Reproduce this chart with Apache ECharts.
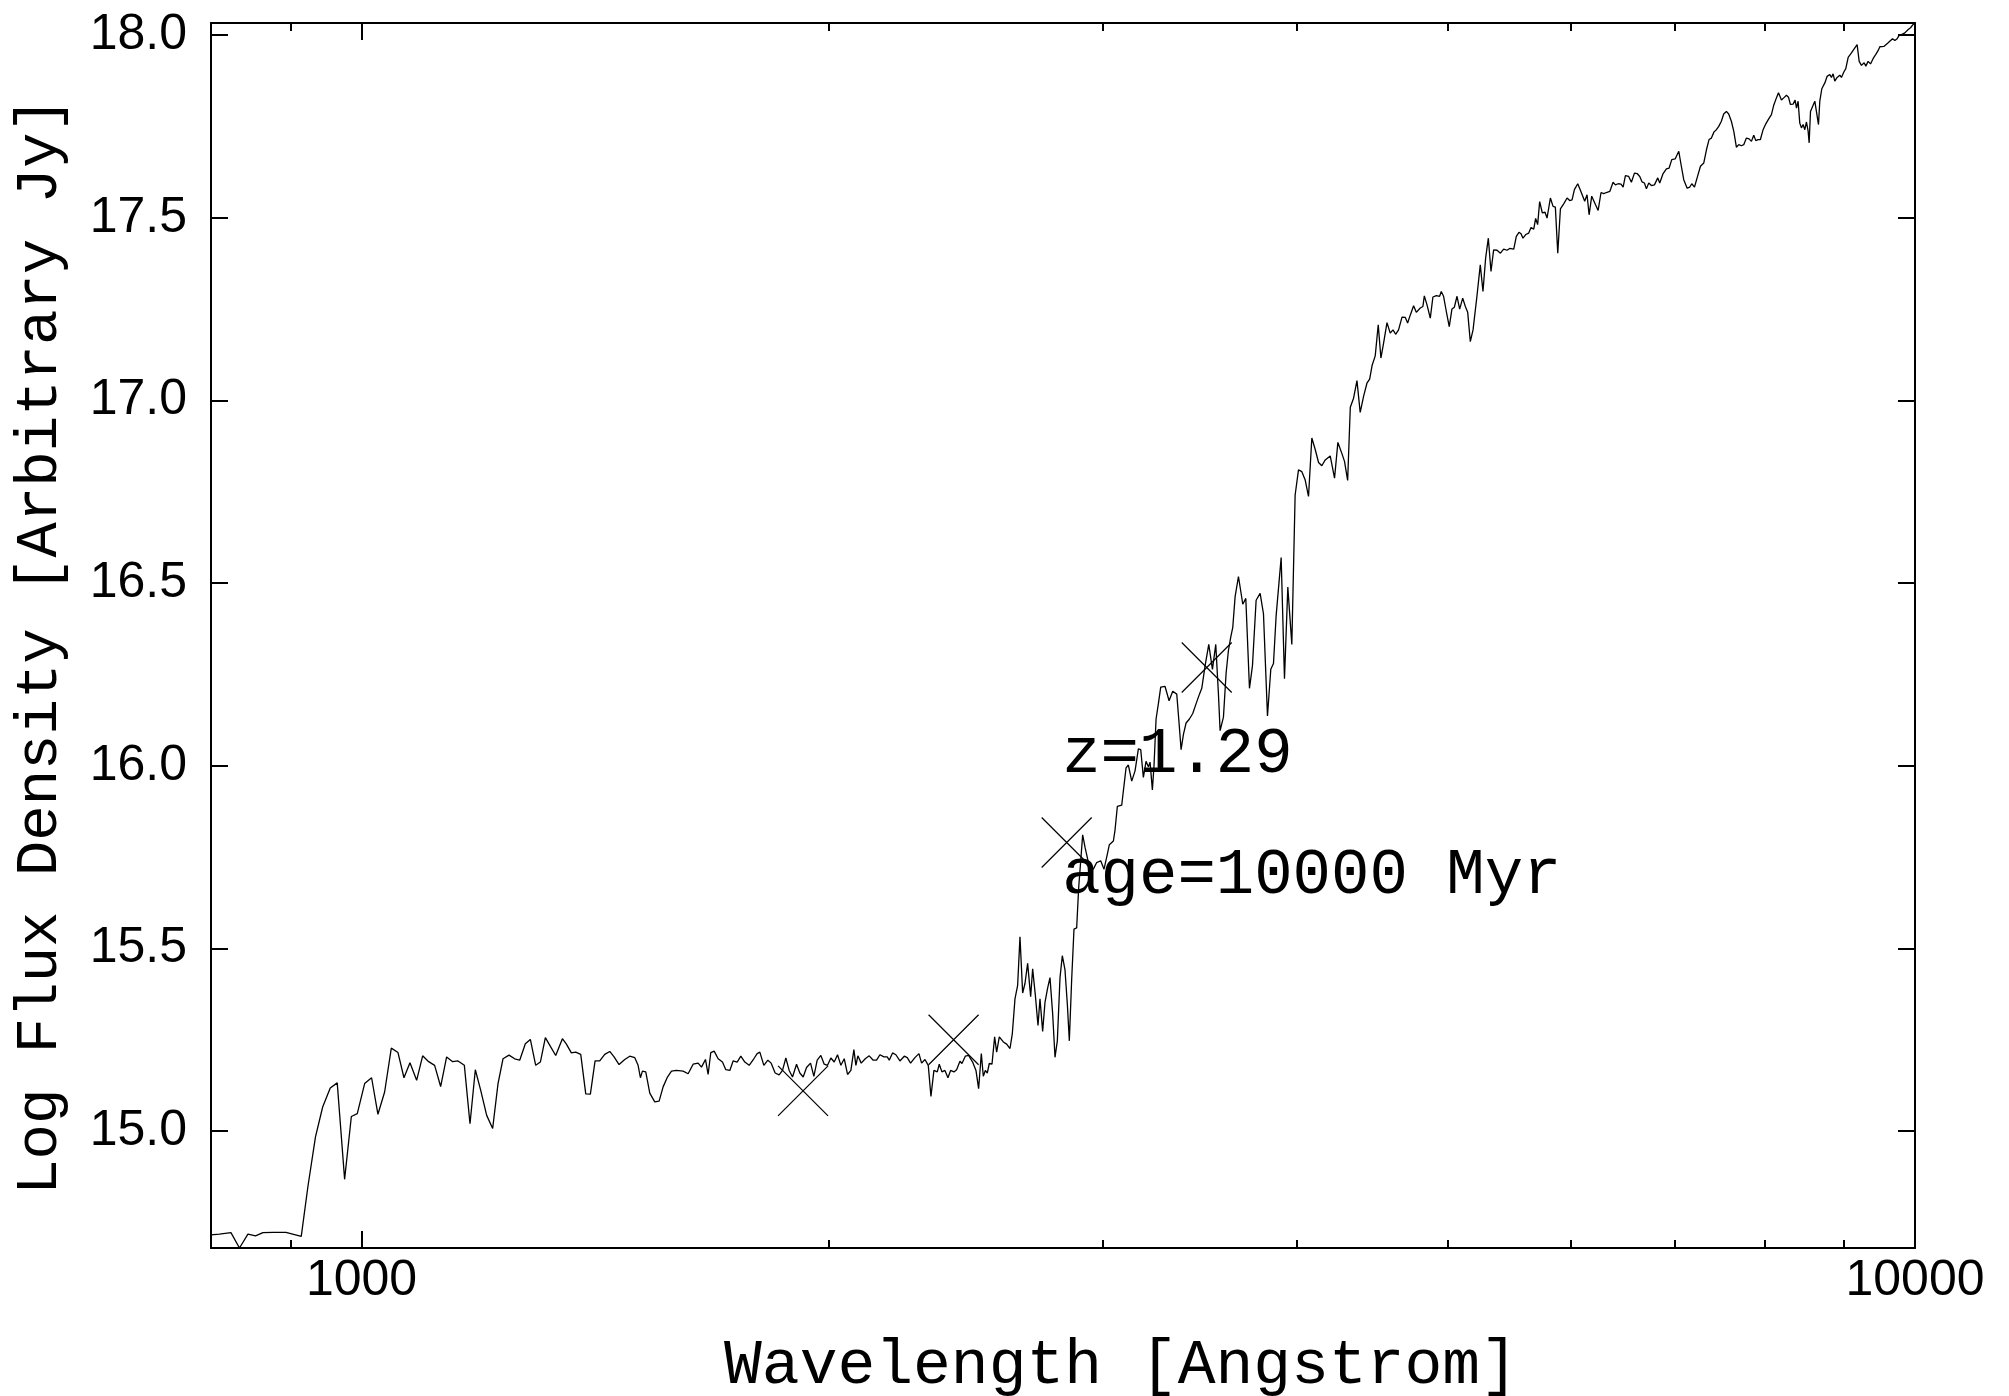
<!DOCTYPE html>
<html>
<head>
<meta charset="utf-8">
<script src="https://cdn.jsdelivr.net/npm/echarts@6/dist/echarts.min.js"></script>
<style>
html,body{margin:0;padding:0;background:#ffffff;}
#chart{width:2009px;height:1396px;}
</style>
</head>
<body>
<div id="chart"></div>
<script>
// ---- data (wavelength in Angstrom, log flux density) ----
const spectrum = [
[800,14.716],[810,14.718],[824,14.722],[834.5,14.680],[845,14.718],[854.6,14.713],[864,14.722],[877,14.723],[894,14.723],[914.5,14.712],
[923.5,14.847],[934,14.984],[944,15.066],[954.7,15.118],[964.6,15.132],[975.2,14.868],[985,15.040],[993.7,15.048],[1004.6,15.130],[1015,15.146],
[1024.6,15.046],[1034.8,15.107],[1045.1,15.227],[1055.5,15.215],[1064.9,15.146],[1074.4,15.187],[1085.1,15.139],[1094.8,15.206],[1104.6,15.190],[1114.4,15.180],
[1124.4,15.122],[1134.4,15.203],[1144.6,15.190],[1153.7,15.192],[1164.6,15.180],[1174.4,15.020],[1183.7,15.168],[1193.1,15.112],[1203.8,15.043],[1214.5,15.007],
[1224.2,15.130],[1233.3,15.198],[1244.3,15.208],[1254.8,15.198],[1264.2,15.194],[1274.8,15.239],[1284.3,15.251],[1294.5,15.180],[1303.5,15.189],[1313.2,15.256],
[1323,15.232],[1333.5,15.207],[1346.8,15.253],[1354.8,15.238],[1364.8,15.214],[1373.6,15.216],[1383.9,15.210],[1394.2,15.102],[1403.8,15.101],[1413.6,15.192],
[1423.4,15.192],[1434,15.210],[1444.7,15.218],[1454,15.203],[1464.8,15.182],[1477.2,15.196],[1488.2,15.205],[1499.3,15.201],[1506.7,15.180],[1511.9,15.146],
[1516.4,15.164],[1523.9,15.162],[1533,15.104],[1544.4,15.080],[1554.4,15.082],[1563.6,15.121],[1573.7,15.148],[1583.1,15.164],[1594.8,15.166],[1610.7,15.164],
[1622.7,15.157],[1634.7,15.183],[1646.9,15.186],[1655.1,15.175],[1664.9,15.196],[1671.5,15.155],[1678.1,15.215],[1686.5,15.219],[1696.5,15.198],[1707.4,15.189],
[1715.9,15.168],[1726.1,15.166],[1734.6,15.192],[1745,15.189],[1754.5,15.205],[1764.9,15.189],[1776.3,15.180],[1788.6,15.198],[1797.5,15.212],[1804.6,15.216],
[1815.4,15.180],[1826.2,15.194],[1835.2,15.186],[1846.1,15.159],[1857.1,15.154],[1866.3,15.166],[1875.6,15.200],[1884.9,15.166],[1894.2,15.148],[1905.5,15.183],
[1914.9,15.159],[1924.4,15.148],[1934,15.174],[1945.5,15.186],[1955.1,15.150],[1964.8,15.194],[1975.5,15.207],[1985.3,15.183],[1995.1,15.180],[2005,15.200],
[2015,15.189],[2024.9,15.209],[2035,15.180],[2045.1,15.198],[2055.2,15.155],[2065.4,15.166],[2074.6,15.223],[2080.8,15.180],[2086.9,15.206],[2097.3,15.186],
[2109.8,15.198],[2122.3,15.206],[2134.9,15.194],[2145.5,15.194],[2156.2,15.209],[2169,15.203],[2179.7,15.203],[2186.2,15.194],[2197,15.214],[2207.9,15.209],
[2221.1,15.192],[2235.4,15.205],[2245.4,15.201],[2256.5,15.186],[2271,15.201],[2284.6,15.212],[2293.6,15.186],[2305,15.196],[2316.4,15.180],[2325.6,15.095],
[2335.9,15.166],[2347.5,15.162],[2354.5,15.183],[2363.8,15.162],[2374.3,15.166],[2385,15.146],[2394.4,15.166],[2406.3,15.162],[2415.8,15.168],[2427.8,15.191],
[2435,15.185],[2447.1,15.205],[2459.2,15.207],[2473.8,15.189],[2486.1,15.166],[2495.9,15.116],[2505.9,15.212],[2513.3,15.150],[2520.8,15.166],[2528.2,15.159],
[2535.7,15.185],[2545.8,15.183],[2555.9,15.258],[2563.5,15.216],[2573.6,15.258],[2589,15.244],[2601.8,15.238],[2614.7,15.226],[2623.8,15.267],
[2634.1,15.362],[2644.5,15.399],[2653.7,15.532],[2664.2,15.378],[2673.4,15.404],[2684,15.459],[2696,15.368],[2704,15.444],[2714.7,15.373],[2725.5,15.289],
[2733.6,15.362],[2744.4,15.273],[2753.9,15.352],[2764.9,15.392],[2774.4,15.420],[2785.4,15.321],[2795.1,15.202],[2804.8,15.247],[2815.9,15.420],[2825.6,15.480],
[2836.8,15.441],[2846.7,15.347],[2855.1,15.247],[2865,15.415],[2874.9,15.553],[2886.3,15.556],[2894.9,15.666],[2904.9,15.750],[2912.1,15.811],[2922.2,15.777],
[2941,15.724],[2958.6,15.717],[2973.2,15.735],[2990.9,15.740],[3005.8,15.717],[3017.7,15.750],[3029.6,15.784],[3047.7,15.794],[3055.2,15.824],[3065.8,15.889],
[3085.6,15.892],[3105.5,15.994],[3116.2,16.002],[3131.7,15.958],[3147.2,15.986],[3162.8,16.046],[3173.8,16.044],[3186.3,15.968],[3198.9,16.012],[3210.1,15.997],
[3218,16.010],[3229.1,15.934],[3237.1,16.002],[3246.8,16.128],[3258,16.170],[3269.3,16.215],[3290.4,16.217],[3310,16.178],[3328,16.204],[3347.9,16.196],
[3357.8,16.128],[3369.5,16.044],[3381.2,16.086],[3394.5,16.117],[3411.4,16.128],[3428.3,16.143],[3445.3,16.170],[3462.4,16.196],[3474.4,16.212],[3491.6,16.274],
[3510.6,16.332],[3529.8,16.264],[3547.2,16.332],[3561.3,16.196],[3570.1,16.096],[3587.8,16.133],[3602,16.254],[3614.5,16.316],[3627.1,16.353],[3637.8,16.379],
[3650.4,16.463],[3668.5,16.518],[3692.2,16.442],[3708.7,16.458],[3728.9,16.212],[3745.5,16.274],[3765.9,16.453],[3788.3,16.472],[3807.1,16.416],[3829.8,16.136],
[3848.7,16.264],[3864,16.280],[3879.3,16.411],[3908.2,16.570],[3927.5,16.238],[3947,16.489],[3970.5,16.332],
[3990,16.741],[4010,16.810],[4030,16.805],[4050,16.782],[4070,16.737],[4090,16.897],[4111,16.865],[4131,16.830],[4151,16.821],[4172,16.837],
[4203,16.848],[4230,16.787],[4251,16.885],[4276,16.855],[4293,16.833],[4313,16.781],[4330,16.981],[4351,17.006],[4373,17.054],[4394,16.967],
[4416,17.011],[4438,17.047],[4456,17.058],[4473,17.097],[4493,17.122],[4513,17.207],[4531,17.116],[4549,17.157],[4572,17.213],[4594,17.184],
[4613,17.193],[4631,17.181],[4651,17.193],[4675,17.228],[4698,17.227],[4714,17.212],[4733,17.234],[4756,17.259],[4775,17.241],[4803,17.253],
[4822,17.257],[4832,17.286],[4851,17.262],[4875,17.225],[4894,17.283],[4919,17.287],[4943,17.285],[4955,17.298],[4972,17.285],[4992,17.244],
[5014,17.202],[5034,17.250],[5052,17.255],[5072,17.285],[5092,17.250],[5115,17.280],[5135,17.257],[5153,17.241],[5173,17.161],[5194,17.193],
[5224,17.285],[5250,17.371],[5271,17.298],[5292,17.390],[5313,17.444],[5334,17.353],[5355,17.412],[5382,17.411],[5409,17.403],[5435,17.414],
[5462,17.411],[5484,17.416],[5500,17.411],[5517,17.414],[5538,17.449],[5560,17.460],[5577,17.456],[5593,17.444],[5616,17.454],[5641,17.458],
[5660,17.473],[5683,17.469],[5699,17.498],[5716,17.481],[5733,17.544],[5756,17.513],[5779,17.515],[5796,17.499],[5825,17.554],[5848,17.531],
[5868,17.529],[5889,17.403],[5912,17.524],[5941,17.538],[5971,17.554],[5994,17.547],[6015,17.549],[6036,17.577],[6066,17.593],[6090,17.575],
[6108,17.579],[6129,17.545],[6150,17.563],[6169,17.508],[6193,17.559],[6227,17.536],[6252,17.520],[6279,17.569],[6304,17.566],[6329,17.569],
[6361,17.572],[6392,17.597],[6414,17.590],[6440,17.593],[6468,17.592],[6488,17.584],[6510,17.615],[6542,17.613],[6568,17.597],[6598,17.622],
[6624,17.621],[6650,17.613],[6673,17.598],[6696,17.595],[6716,17.579],[6739,17.595],[6766,17.588],[6796,17.590],[6830,17.609],[6850,17.595],
[6884,17.621],[6918,17.634],[6946,17.636],[6973,17.659],[7008,17.661],[7046,17.682],[7070,17.645],[7098,17.604],[7134,17.581],[7162,17.584],
[7183,17.593],[7212,17.584],[7240,17.609],[7276,17.641],[7312,17.650],[7341,17.686],
[7369,17.714],[7395,17.718],[7424,17.735],[7450,17.741],[7476,17.750],[7505,17.764],[7531,17.784],[7561,17.791],[7587,17.784],[7617,17.764],
[7644,17.737],[7674,17.693],[7701,17.700],[7731,17.697],[7758,17.700],[7789,17.718],[7820,17.716],[7847,17.709],[7874,17.726],[7898,17.711],
[7925,17.714],[7952,17.714],[7984,17.741],[8016,17.757],[8047,17.769],[8083,17.782],[8111,17.808],[8143,17.828],[8168,17.842],[8204,17.822],
[8232,17.828],[8265,17.835],[8290,17.830],[8314,17.810],[8347,17.811],[8372,17.822],[8389,17.800],[8409,17.819],[8430,17.759],[8451,17.746],
[8472,17.755],[8493,17.741],[8514,17.762],[8535,17.737],[8548,17.705],[8565,17.791],[8590,17.796],[8620,17.819],[8641,17.823],[8667,17.755],
[8684,17.819],[8710,17.853],[8749,17.869],[8779,17.887],[8814,17.892],[8835,17.884],[8857,17.894],[8879,17.874],[8910,17.884],[8945,17.890],
[8967,17.884],[8999,17.899],[9025,17.908],[9057,17.939],[9101,17.951],[9147,17.965],[9178,17.974],[9206,17.928],[9237,17.917],[9274,17.924],
[9297,17.915],[9329,17.928],[9362,17.921],[9399,17.936],[9436,17.947],[9469,17.958],[9492,17.968],[9520,17.963],[9549,17.969],[9577,17.974],
[9610,17.979],[9634,17.983],[9672,17.990],[9706,17.985],[9739,17.990],[9768,17.999],[9802,18.001],[9851,18.006],[9900,18.015],[9934,18.020],
[9973,18.029],[10000,18.033]
];

const markerWavelength = [1924, 2405, 2844, 3500];
const markerFlux = [15.110, 15.250, 15.790, 16.269];

const annotationText = ['z=1.29', 'age=10000 Myr'];
const annotationWavelength = [2825, 2825];
const annotationFlux = [16.030, 15.697];

const xMajorTicks = [1000, 10000];
const xMinorTicks = [900, 2000, 3000, 4000, 5000, 6000, 7000, 8000, 9000];
const yTicks = [15.0, 15.5, 16.0, 16.5, 17.0, 17.5, 18.0];
const xRange = [800, 10000];
const yRange = [14.68, 18.033];

const xTitle = 'Wavelength [Angstrom]';
const yTitle = 'Log Flux Density [Arbitrary Jy]';

// ---- chart ----
const BLACK = '#000000';
const SANS = '"Liberation Sans", Arial, Helvetica, sans-serif';
const MONO = '"Liberation Mono", "Courier New", monospace';
const frameLine = { color: BLACK, width: 2 };

function xAxisDef(position, ticks, tickLen, showLine, showLabels) {
  return {
    type: 'log', logBase: 10, min: xRange[0], max: xRange[1], position: position,
    axisLine: { show: showLine, onZero: false, lineStyle: frameLine },
    axisTick: { show: true, inside: true, length: tickLen, customValues: ticks, lineStyle: frameLine },
    axisLabel: showLabels ? {
      show: true, customValues: ticks, margin: 8,
      formatter: function (v) { return String(Math.round(v)); },
      fontFamily: SANS, fontSize: 50, color: BLACK
    } : { show: false },
    splitLine: { show: false }, minorTick: { show: false }, minorSplitLine: { show: false }
  };
}
function yAxisDef(position, showLabels) {
  return {
    type: 'value', min: yRange[0], max: yRange[1], position: position,
    axisLine: { show: true, onZero: false, lineStyle: frameLine },
    axisTick: { show: true, inside: true, length: 17, customValues: yTicks, lineStyle: frameLine },
    axisLabel: showLabels ? {
      show: true, customValues: yTicks, margin: 24,
      formatter: function (v) { return Number(v).toFixed(1); },
      fontFamily: SANS, fontSize: 50, color: BLACK
    } : { show: false },
    splitLine: { show: false }
  };
}

const chart = echarts.init(document.getElementById('chart'), null, { renderer: 'canvas', width: 2009, height: 1396 });

chart.setOption({
  animation: false,
  backgroundColor: '#ffffff',
  grid: { left: 211, right: 94, top: 23, bottom: 148, containLabel: false, outerBoundsMode: 'none' },
  xAxis: [
    xAxisDef('bottom', xMajorTicks, 17, true, true),
    xAxisDef('bottom', xMinorTicks, 8, false, false),
    xAxisDef('top', xMajorTicks, 17, true, false),
    xAxisDef('top', xMinorTicks, 8, false, false)
  ],
  yAxis: [
    yAxisDef('left', true),
    yAxisDef('right', false)
  ],
  series: [
    {
      type: 'line', xAxisIndex: 0, yAxisIndex: 0, data: spectrum,
      showSymbol: false, symbol: 'none', smooth: false, clip: true, silent: true,
      lineStyle: { color: BLACK, width: 1.3 }
    },
    {
      type: 'scatter', xAxisIndex: 0, yAxisIndex: 0, silent: true,
      data: markerWavelength.map(function (w, i) { return [w, markerFlux[i]]; }),
      symbol: 'path://M0,0L10,10M10,0L0,10', symbolSize: 50,
      itemStyle: { color: 'rgba(0,0,0,0)', borderColor: BLACK, borderWidth: 1.2, opacity: 1 }
    }
  ]
});

// titles (fixed page positions) and annotations (anchored in data coordinates through the axes)
const graphics = [
  {
    type: 'text', x: 1121, y: 1366, silent: true,
    style: { text: xTitle, font: '63px ' + MONO, fill: BLACK,
             align: 'center', verticalAlign: 'middle', textAlign: 'center', textVerticalAlign: 'middle' }
  },
  {
    type: 'text', x: 40, y: 646, rotation: Math.PI / 2, silent: true,
    style: { text: yTitle, font: '59px ' + MONO, fill: BLACK,
             align: 'center', verticalAlign: 'middle', textAlign: 'center', textVerticalAlign: 'middle' }
  }
];
annotationText.forEach(function (t, i) {
  const p = chart.convertToPixel({ xAxisIndex: 0, yAxisIndex: 0 }, [annotationWavelength[i], annotationFlux[i]]);
  graphics.push({
    type: 'text', x: p[0], y: p[1], silent: true, z: 10,
    style: { text: t, font: '64px ' + MONO, fill: BLACK, opacity: 1,
             align: 'left', verticalAlign: 'middle', textAlign: 'left', textVerticalAlign: 'middle' }
  });
});
chart.setOption({ graphic: graphics });
</script>
</body>
</html>
